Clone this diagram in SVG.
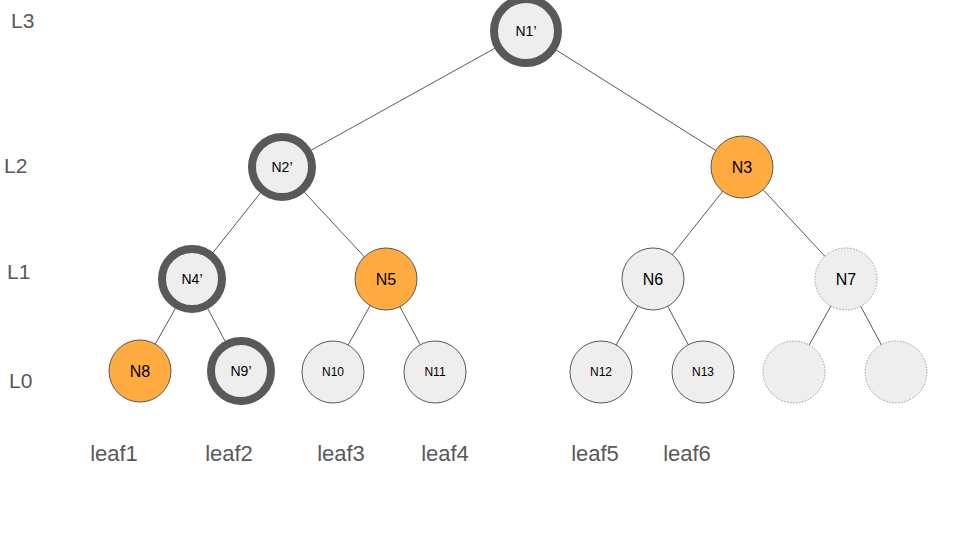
<svg xmlns="http://www.w3.org/2000/svg" width="960" height="540" viewBox="0 0 960 540">
<style>
text{font-family:"Liberation Sans",Arial,sans-serif;text-anchor:middle;dominant-baseline:central;fill:#000}
.lv{fill:#595959;font-size:21px;text-anchor:start}
.lf{fill:#595959;font-size:22px}
.g{fill:#eeeeee;stroke:#595959;stroke-width:1}
.o{fill:#ffab40;stroke:#595959;stroke-width:1}
.t{fill:#eeeeee;stroke:#595959;stroke-width:8}
.d{fill:#eeeeee;stroke:#999;stroke-width:1;stroke-dasharray:1.5 1.5}
.c line{stroke:#595959;stroke-width:1}
</style>
<rect width="960" height="540" fill="#fff"/>
<g class="c" id="connectors">
<line x1="526" y1="31" x2="281" y2="167"/>
<line x1="526" y1="31" x2="742" y2="167"/>
<line x1="281" y1="167" x2="192" y2="279"/>
<line x1="281" y1="167" x2="385" y2="279"/>
<line x1="742" y1="167" x2="653" y2="279"/>
<line x1="742" y1="167" x2="846" y2="279"/>
<line x1="192" y1="279" x2="140" y2="371"/>
<line x1="192" y1="279" x2="241" y2="371"/>
<line x1="385" y1="279" x2="333" y2="372"/>
<line x1="385" y1="279" x2="435" y2="372"/>
<line x1="653" y1="279" x2="601" y2="372"/>
<line x1="653" y1="279" x2="703" y2="372"/>
<line x1="846" y1="279" x2="794" y2="372"/>
<line x1="846" y1="279" x2="896" y2="372"/>
</g>
<g id="N1"><circle class="t" cx="526" cy="31" r="32"/><text x="526" y="31" font-size="14">N1’</text></g>
<g id="N2"><circle class="t" cx="282" cy="167" r="30"/><text x="282" y="167" font-size="14">N2’</text></g>
<g id="N3"><circle class="o" cx="742" cy="167" r="31"/><text x="742" y="167" font-size="16">N3</text></g>
<g id="N4"><circle class="t" cx="192" cy="279" r="30"/><text x="192" y="279" font-size="14">N4’</text></g>
<g id="N5"><circle class="o" cx="386" cy="279" r="31"/><text x="386" y="279" font-size="16">N5</text></g>
<g id="N6"><circle class="g" cx="653" cy="279" r="31"/><text x="653" y="279" font-size="16">N6</text></g>
<g id="N7"><circle class="d" cx="846" cy="279" r="31"/><text x="846" y="279" font-size="16">N7</text></g>
<g id="N8"><circle class="o" cx="140" cy="371" r="31"/><text x="140" y="371" font-size="16">N8</text></g>
<g id="N9"><circle class="t" cx="241" cy="371" r="30"/><text x="241" y="371" font-size="14">N9’</text></g>
<g id="N10"><circle class="g" cx="333" cy="372" r="31"/><text x="333" y="372" font-size="12">N10</text></g>
<g id="N11"><circle class="g" cx="435" cy="372" r="31"/><text x="435" y="372" font-size="12">N11</text></g>
<g id="N12"><circle class="g" cx="601" cy="372" r="31"/><text x="601" y="372" font-size="12">N12</text></g>
<g id="N13"><circle class="g" cx="703" cy="372" r="31"/><text x="703" y="372" font-size="12">N13</text></g>
<g id="N14"><circle class="d" cx="794" cy="372" r="31"/></g>
<g id="N15"><circle class="d" cx="896" cy="372" r="31"/></g>
<g id="levels">
<text class="lv" x="11" y="20">L3</text>
<text class="lv" x="4" y="165">L2</text>
<text class="lv" x="7" y="271">L1</text>
<text class="lv" x="9" y="380">L0</text>
</g>
<g id="leaves">
<text class="lf" x="114" y="453">leaf1</text>
<text class="lf" x="229" y="453">leaf2</text>
<text class="lf" x="341" y="453">leaf3</text>
<text class="lf" x="445" y="453">leaf4</text>
<text class="lf" x="595" y="453">leaf5</text>
<text class="lf" x="687" y="453">leaf6</text>
</g>
</svg>
